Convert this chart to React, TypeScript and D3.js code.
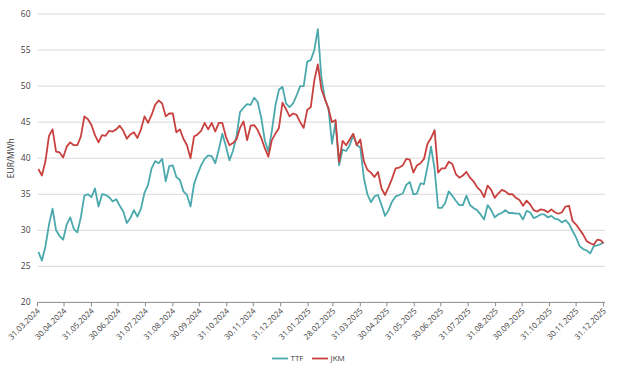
import React from "react";
import * as d3 from "d3";

const START_DATE = "2024-04-01";
const STEP_DAYS = 4;
const END_DATE = "2025-12-31";

const ttf = [
  27.0, 25.8, 27.8, 30.8, 33.0, 30.0, 29.2, 28.7, 30.8, 31.8,
  30.2, 29.7, 31.8, 34.8, 35.0, 34.6, 35.8, 33.3, 35.0, 34.9,
  34.6, 34.0, 34.3, 33.4, 32.6, 31.0, 31.7, 32.8, 31.9, 33.0,
  35.2, 36.3, 38.6, 39.6, 39.3, 39.9, 36.8, 38.9, 39.0, 37.4,
  37.0, 35.4, 34.9, 33.3, 36.4, 37.8, 39.0, 39.9, 40.4, 40.3,
  39.3, 41.2, 43.4, 41.7, 39.7, 41.0, 43.0, 46.4, 47.0, 47.5,
  47.4, 48.4, 47.8, 45.6, 42.5, 40.9, 43.8, 47.3, 49.5, 49.9,
  47.6, 47.1, 47.6, 48.7, 50.0, 50.0, 53.4, 53.6, 55.0, 57.9,
  51.2, 48.2, 46.9, 42.0, 45.0, 39.0, 41.2, 41.0, 41.8, 43.2,
  41.8, 41.5, 37.3, 35.0, 33.9, 34.7, 34.9, 33.5, 32.0, 32.8,
  34.0, 34.7, 34.9, 35.1, 36.3, 36.7, 35.0, 35.1, 36.5, 36.4,
  38.8, 41.6, 38.5, 33.1, 33.1, 33.8, 35.4, 34.8, 34.1, 33.5,
  33.5, 34.8, 33.5, 33.1, 32.8, 32.2, 31.5, 33.5, 32.8, 31.8,
  32.2, 32.4, 32.8, 32.4, 32.4, 32.3, 32.3, 31.5, 32.7, 32.5,
  31.7, 31.9, 32.2, 32.2, 31.8, 32.0, 31.6, 31.5, 31.1, 31.4,
  30.9, 29.9, 29.0, 27.8, 27.4, 27.2, 26.8, 27.8, 27.9, 28.1,
  28.3,
];

const jkm = [
  38.5, 37.6, 39.6, 43.1, 44.0, 40.9, 40.8, 40.1, 41.6, 42.2,
  41.8, 41.8, 43.0, 45.8, 45.4, 44.6, 43.2, 42.2, 43.2, 43.1,
  43.8, 43.7, 44.0, 44.5, 43.8, 42.7, 43.3, 43.6, 42.8, 44.0,
  45.8, 44.9, 46.0, 47.4, 48.0, 47.6, 45.8, 46.2, 46.2, 43.6,
  44.0, 42.7, 41.8, 40.0, 43.0, 43.3, 43.8, 44.9, 44.0, 44.9,
  43.7, 44.9, 44.9, 43.0, 41.8, 42.1, 42.6, 44.2, 45.1, 42.5,
  44.5, 44.6, 43.9, 42.8, 41.4, 40.2, 42.5, 43.4, 44.2, 47.7,
  46.8, 45.8, 46.2, 46.0, 45.0, 44.2, 46.7, 47.1, 50.8, 53.0,
  49.6, 48.2, 46.9, 45.0, 45.3, 39.5, 42.4, 41.8, 42.6, 43.4,
  41.8, 42.6, 39.6, 38.4, 38.0, 37.4, 38.1, 35.8, 34.9, 36.0,
  37.2, 38.6, 38.7, 39.0, 39.9, 39.8, 38.0, 39.0, 39.3, 39.9,
  42.0, 42.8, 43.9, 38.0, 38.6, 38.6, 39.5, 39.2, 37.8, 37.3,
  37.6, 38.1, 37.3, 36.8, 36.0, 35.5, 34.6, 36.2, 35.6, 34.5,
  35.1, 35.6, 35.4, 35.0, 35.0, 34.5, 34.2, 33.4, 34.1, 33.6,
  32.8, 32.6, 32.9, 32.8, 32.5, 32.9, 32.5, 32.3, 32.5, 33.3,
  33.4, 31.3, 30.8, 30.1, 29.4, 28.5, 28.2, 28.0, 28.7, 28.6,
  28.2,
];

const tickLabels = [
  "31.03.2024", "30.04.2024", "31.05.2024", "30.06.2024", "31.07.2024",
  "31.08.2024", "30.09.2024", "31.10.2024", "30.11.2024", "31.12.2024",
  "31.01.2025", "28.02.2025", "31.03.2025", "30.04.2025", "31.05.2025",
  "30.06.2025", "31.07.2025", "31.08.2025", "30.09.2025", "31.10.2025",
  "30.11.2025", "31.12.2025",
];

const yTicks = [20, 25, 30, 35, 40, 45, 50, 55, 60];

const seriesNames = ["TTF", "JKM"];
const seriesColors = ["#4ba9ad", "#c8413f"];

const W = 622;
const H = 368;
const FONT = "'Open Sans', 'Noto Sans', sans-serif";

const parseD = d3.timeParse("%Y-%m-%d");
const parseTick = d3.timeParse("%d.%m.%Y");

function buildDates(n: number): Date[] {
  const s = parseD(START_DATE) as Date;
  const out: Date[] = [];
  for (let i = 0; i < n - 1; i++) out.push(d3.timeDay.offset(s, i * STEP_DAYS));
  out.push(parseD(END_DATE) as Date);
  return out;
}

export default function App() {
  const dates = buildDates(ttf.length);
  const tickDates = tickLabels.map((t) => parseTick(t) as Date);

  const x = d3
    .scaleTime()
    .domain([tickDates[0], tickDates[tickDates.length - 1]])
    .range([37.5, 603.5]);
  const y = d3.scaleLinear().domain([20, 60]).range([302.4, 14]);

  const line = d3
    .line<number>()
    .x((_, i) => x(dates[i]))
    .y((d) => y(d))
    .curve(d3.curveLinear);

  const series = [ttf, jkm];

  return (
    <svg
      width={W}
      height={H}
      style={{ position: "absolute", left: 0, top: 0, background: "#fff" }}
      fontFamily={FONT}
    >
      {/* gridlines */}
      {yTicks
        .filter((t) => t > 20)
        .map((t) => (
          <line
            key={"g" + t}
            x1={37.5}
            x2={605}
            y1={y(t)}
            y2={y(t)}
            stroke="#d9d9d9"
            strokeWidth={1}
          />
        ))}
      {/* y labels */}
      {yTicks.map((t) => (
        <text
          key={"yl" + t}
          x={30.5}
          y={y(t) + 3}
          textAnchor="end"
          fontSize={8.5}
          fill="#404040"
        >
          {t}
        </text>
      ))}
      <text
        transform={`translate(14,${y(40)}) rotate(-90)`}
        textAnchor="middle"
        fontSize={8.5}
        fill="#404040"
      >
        EUR/MWh
      </text>
      {/* x axis */}
      <line
        x1={37.5}
        x2={605}
        y1={y(20)}
        y2={y(20)}
        stroke="#8c8c8c"
        strokeWidth={1}
      />
      {tickDates.map((d, i) => (
        <g key={"xt" + i}>
          <line
            x1={x(d)}
            x2={x(d)}
            y1={y(20)}
            y2={y(20) + 4}
            stroke="#8c8c8c"
            strokeWidth={1}
          />
          <text
            transform={`translate(${x(d) + 3},${y(20) + 9}) rotate(-45)`}
            textAnchor="end"
            fontSize={8}
            fill="#404040"
          >
            {tickLabels[i]}
          </text>
        </g>
      ))}
      {/* series */}
      {series.map((s, k) => (
        <path
          key={"s" + k}
          d={line(s) || ""}
          fill="none"
          stroke={seriesColors[k]}
          strokeWidth={1.8}
          strokeLinejoin="round"
        />
      ))}
      {/* legend */}
      {seriesNames.map((n, k) => {
        const lx = 272 + k * 40;
        return (
          <g key={"lg" + k}>
            <line
              x1={lx}
              x2={lx + 16}
              y1={358.5}
              y2={358.5}
              stroke={seriesColors[k]}
              strokeWidth={1.8}
            />
            <text x={lx + 18.5} y={361} fontSize={8} fill="#404040">
              {n}
            </text>
          </g>
        );
      })}
    </svg>
  );
}
